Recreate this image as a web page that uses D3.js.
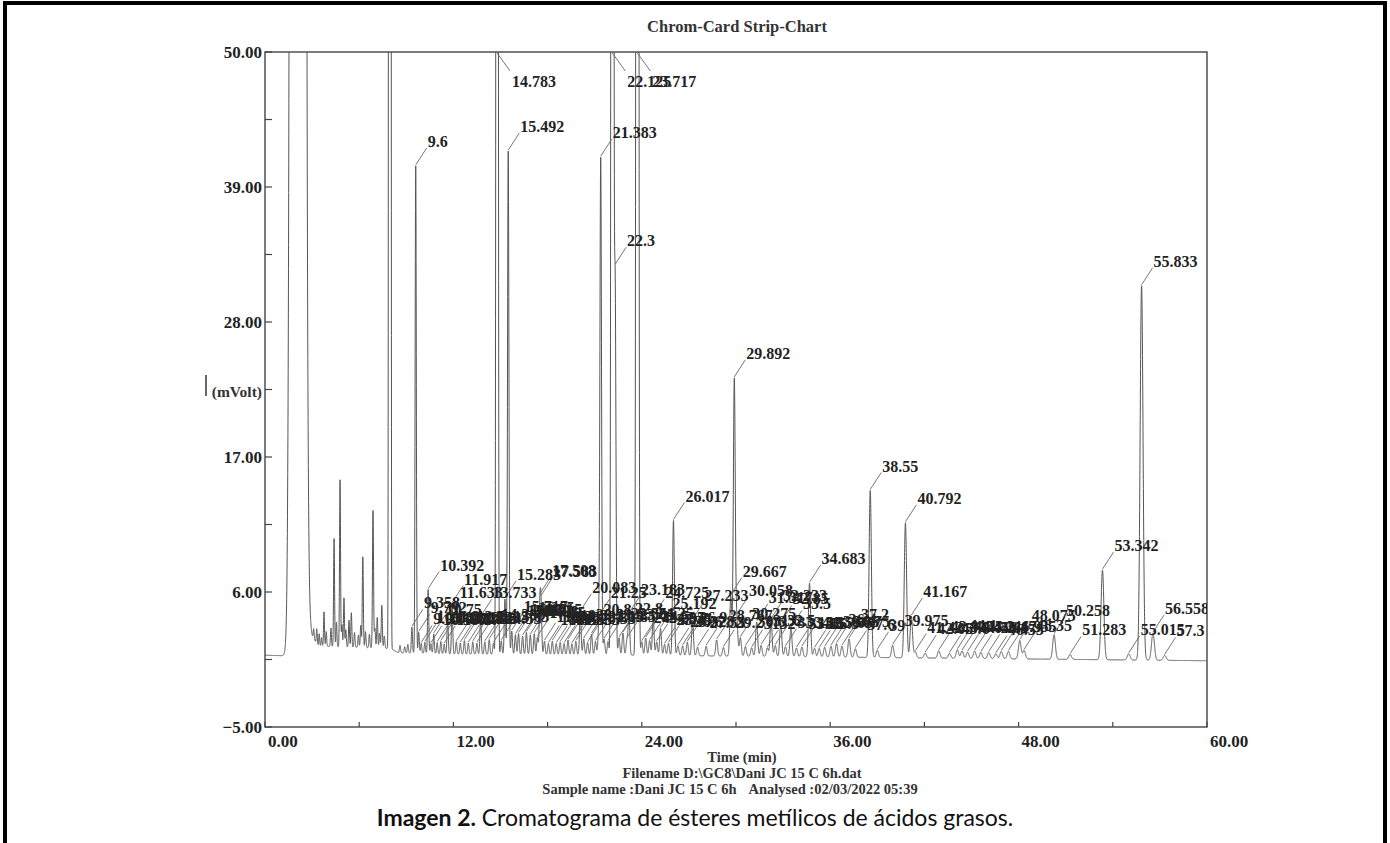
<!DOCTYPE html>
<html><head><meta charset="utf-8">
<script src="https://cdn.jsdelivr.net/npm/d3@7"></script>
<style>body{margin:0;background:#fff;} svg{display:block}</style>
</head><body>
<svg id="c" width="1390" height="843"></svg>
<script>
// ---------------- DATA ----------------
const chartTitle = "Chrom-Card Strip-Chart";
const xTickValues = [0, 6, 12, 18, 24, 30, 36, 42, 48, 54, 60];
const xTickLabels = [0, 12, 24, 36, 48, 60];
const yTickValues = [50, 44.5, 39, 33.5, 28, 22.5, 17, 11.5, 6, 0.5, -5];
const yTickLabels = [50, 39, 28, 17, 6, -5];

// baseline drift (min, mV)
const baselineTimes  = [0, 1.4, 2.8, 3.0, 3.4, 8.0, 8.5, 12, 24, 36, 48, 60];
const baselineValues = [0.85, 0.8, 3.5, 2.4, 1.6, 1.4, 1.05, 0.95, 0.85, 0.7, 0.55, 0.4];

// unlabelled peaks (solvent, early noise, off-scale 7.95)
const unlabelledTimes   = [2.10, 3.10, 3.30, 3.45, 3.60, 3.76, 3.90, 4.20, 4.40, 4.55, 4.78, 4.90, 5.03, 5.15, 5.35, 5.50, 5.70, 5.95, 6.10, 6.23, 6.40, 6.65, 6.88, 7.00, 7.15, 7.30, 7.44, 7.60, 7.95, 8.60, 8.90, 9.10];
const unlabelledHeights = [3000, 0.8, 1.2, 1.0, 0.7, 2.8, 1.2, 1.5, 8.8, 2.0, 13.6, 1.8, 4.0, 1.4, 2.2, 2.8, 1.2, 1.0, 1.8, 7.4, 1.3, 1.1, 11.2, 1.6, 2.5, 1.2, 3.5, 1.0, 2000, 0.6, 0.5, 0.7];

// labelled peaks: retention time (min) and height above baseline (mV)
const peakTimes = [9.358, 9.6, 9.792, 9.95, 10.183, 10.392, 10.567, 10.75, 10.967, 11.2, 11.417, 11.633, 11.917, 12.183, 12.442, 12.7, 12.95, 13.233, 13.5, 13.733, 14.0, 14.283, 14.55, 14.783, 15.05, 15.283, 15.492, 15.717, 15.95, 16.15, 16.408, 16.65, 16.9, 17.15, 17.35, 17.508, 17.583, 17.8, 18.05, 18.3, 18.55, 18.8, 19.05, 19.3, 19.55, 19.8, 20.083, 20.3, 20.55, 20.8, 21.05, 21.25, 21.383, 21.6, 21.85, 22.125, 22.3, 22.55, 22.8, 23.05, 23.183, 23.717, 24.0, 24.25, 24.5, 24.725, 24.95, 25.192, 25.45, 25.7, 26.017, 26.3, 26.6, 26.9, 27.233, 27.55, 28.1, 28.767, 29.2, 29.667, 29.892, 30.058, 30.275, 30.6, 31.0, 31.317, 31.6, 32.0, 32.233, 32.5, 32.85, 33.15, 33.5, 33.85, 34.2, 34.683, 35.0, 35.3, 35.65, 36.05, 36.4, 36.75, 37.2, 37.6, 38.55, 39.0, 39.975, 40.792, 41.167, 41.42, 42.05, 42.917, 43.6, 44.1, 44.4, 44.75, 45.2, 45.6, 46.1, 46.55, 46.9, 47.35, 48.075, 48.35, 50.258, 51.283, 53.342, 55.015, 55.833, 56.558, 57.3];
const peakHeights = [2.1, 39.7, 1.7, 0.8, 0.9, 5.2, 0.8, 1.6, 0.9, 1.0, 0.8, 3.0, 4.1, 1.0, 0.9, 1.1, 0.9, 1.0, 0.9, 3.0, 1.0, 1.2, 0.9, 400, 1.1, 4.5, 41, 1.9, 1.6, 1.7, 1.5, 1.8, 1.6, 1.7, 1.4, 3.9, 3.7, 1.1, 0.9, 1.1, 0.9, 1.0, 0.9, 1.2, 0.9, 1.1, 3.5, 1.3, 1.0, 1.7, 1.1, 1.8, 40.5, 1.3, 1.1, 400, 30.5, 1.4, 1.8, 1.2, 3.3, 400, 1.1, 1.4, 1.2, 3.1, 1.1, 2.2, 0.9, 1.0, 11.0, 0.8, 0.8, 1.1, 2.9, 0.7, 0.8, 1.3, 0.7, 4.9, 22.6, 2.8, 1.5, 0.8, 0.7, 2.8, 0.9, 0.7, 3.0, 0.9, 2.7, 0.8, 2.3, 0.7, 0.8, 6.0, 0.7, 0.7, 0.8, 0.9, 1.1, 0.9, 1.5, 0.7, 13.6, 0.6, 1.0, 11.0, 3.4, 0.5, 0.4, 0.6, 0.4, 0.7, 0.6, 0.5, 0.6, 0.5, 0.5, 0.4, 0.6, 0.6, 1.5, 0.7, 2.0, 0.4, 7.3, 0.5, 30.5, 2.2, 0.4];

const footerLines = ["Time (min)", "Filename D:\\GC8\\Dani JC 15 C 6h.dat"];
const sampleName = "Sample name :Dani JC 15 C 6h";
const analysed = "Analysed :02/03/2022 05:39";
const captionBold = "Imagen 2.";
const captionText = " Cromatograma de ésteres metílicos de ácidos grasos.";
const yAxisTitle = "(mVolt)";

// ---------------- CHART ----------------
const svg = d3.select('#c');
const serif = "'Liberation Serif','DejaVu Serif',serif";
const L = 265, R = 1207, T = 52, B = 727;
const x = d3.scaleLinear().domain([0, 60]).range([L, R]);
const y = d3.scaleLinear().domain([-5, 50]).range([B, T]);
const base = d3.scaleLinear().domain(baselineTimes).range(baselineValues).clamp(true);

const allT = unlabelledTimes.concat(peakTimes);
const allH = unlabelledHeights.concat(peakHeights);
const sig = t => t < 3 ? 0.2 : 0.025 + 0.0012 * t;
function signal(t) {
  let v = base(t);
  for (let i = 0; i < allT.length; i++) {
    const s = sig(allT[i]), d = t - allT[i];
    if (Math.abs(d) < 8 * s) v += allH[i] * Math.exp(-d * d / (2 * s * s));
  }
  return v;
}
const pts = d3.range(0, 60.0001, 0.004).map(t => [t, signal(t)]);

// outer frame
svg.append('path').attr('d', `M5,843 L5,3 L1385,3 L1385,843`)
  .attr('fill', 'none').attr('stroke', '#000').attr('stroke-width', 4);

// clip
svg.append('clipPath').attr('id', 'pc').append('rect')
  .attr('x', L).attr('y', T).attr('width', R - L).attr('height', B - T);

// title
svg.append('text').attr('x', 737).attr('y', 32).attr('text-anchor', 'middle')
  .attr('font-family', serif).attr('font-weight', 'bold').attr('font-size', 16.5)
  .attr('fill', '#333').text(chartTitle);

// plot box
svg.append('rect').attr('x', L).attr('y', T).attr('width', R - L).attr('height', B - T)
  .attr('fill', 'none').attr('stroke', '#444').attr('stroke-width', 1.4);

// y ticks
svg.append('g').selectAll('line').data(yTickValues).join('line')
  .attr('x1', L).attr('x2', L + 7).attr('y1', d => y(d)).attr('y2', d => y(d))
  .attr('stroke', '#444').attr('stroke-width', 1.2);
svg.append('g').selectAll('text').data(yTickLabels).join('text')
  .attr('x', L - 3).attr('y', d => y(d) + 6).attr('text-anchor', 'end')
  .attr('font-family', serif).attr('font-weight', 'bold').attr('font-size', 17)
  .attr('fill', '#222').text(d => d3.format('.2f')(d));

// x ticks
svg.append('g').selectAll('line').data(xTickValues).join('line')
  .attr('x1', d => x(d)).attr('x2', d => x(d)).attr('y1', B).attr('y2', B - 5)
  .attr('stroke', '#444').attr('stroke-width', 1.2);
svg.append('g').selectAll('text').data(xTickLabels).join('text')
  .attr('x', d => x(d) + 3).attr('y', 747).attr('text-anchor', 'start')
  .attr('font-family', serif).attr('font-weight', 'bold').attr('font-size', 17)
  .attr('fill', '#222').text(d => d3.format('.2f')(d));

// y axis title
svg.append('text').attr('x', 262).attr('y', 397).attr('text-anchor', 'end')
  .attr('font-family', serif).attr('font-weight', 'bold').attr('font-size', 15.5)
  .attr('fill', '#333').text(yAxisTitle);
svg.append('line').attr('x1', 206).attr('x2', 206).attr('y1', 375).attr('y2', 396)
  .attr('stroke', '#333').attr('stroke-width', 1.5);

// trace
const g = svg.append('g').attr('clip-path', 'url(#pc)');
g.append('path').datum(pts)
  .attr('d', d3.line().x(d => x(d[0])).y(d => y(Math.min(d[1], 60))))
  .attr('fill', 'none').attr('stroke', '#555').attr('stroke-width', 1);

// peak labels + leaders
const fmt = t => String(+t.toFixed(3));
const labs = peakTimes.map(t => {
  const v = signal(t);
  const px = x(t);
  if (v > 50) return {t, x1: px, y1: T + 1, x2: px + 13, y2: T + 19, tx: px + 15, ty: T + 35};
  const py = y(v);
  return {t, x1: px, y1: py - 1, x2: px + 11, y2: py - 18, tx: px + 12, ty: py - 19};
});
g.append('g').selectAll('line').data(labs).join('line')
  .attr('x1', d => d.x1).attr('y1', d => d.y1).attr('x2', d => d.x2).attr('y2', d => d.y2)
  .attr('stroke', '#666').attr('stroke-width', 0.9);
g.append('g').selectAll('text').data(labs).join('text')
  .attr('x', d => d.tx).attr('y', d => d.ty)
  .attr('font-family', serif).attr('font-weight', 'bold').attr('font-size', 16)
  .attr('fill', '#222').text(d => fmt(d.t));

// footer
svg.append('g').selectAll('text').data(footerLines).join('text')
  .attr('x', 742).attr('y', (d, i) => 762 + i * 16).attr('text-anchor', 'middle')
  .attr('font-family', serif).attr('font-weight', 'bold').attr('font-size', 14.5)
  .attr('fill', '#333').text(d => d);
const sl = svg.append('text').attr('x', 730).attr('y', 794).attr('text-anchor', 'middle')
  .attr('font-family', serif).attr('font-weight', 'bold').attr('font-size', 14.5).attr('fill', '#333');
sl.append('tspan').text(sampleName);
sl.append('tspan').attr('dx', 12).text(analysed);

const cap = svg.append('text').attr('x', 695).attr('y', 826).attr('text-anchor', 'middle')
  .attr('font-family', "Lato,'Open Sans',sans-serif").attr('font-size', 23).attr('fill', '#111');
cap.append('tspan').attr('font-weight', 'bold').text(captionBold);
cap.append('tspan').text(captionText);
</script>
</body></html>
